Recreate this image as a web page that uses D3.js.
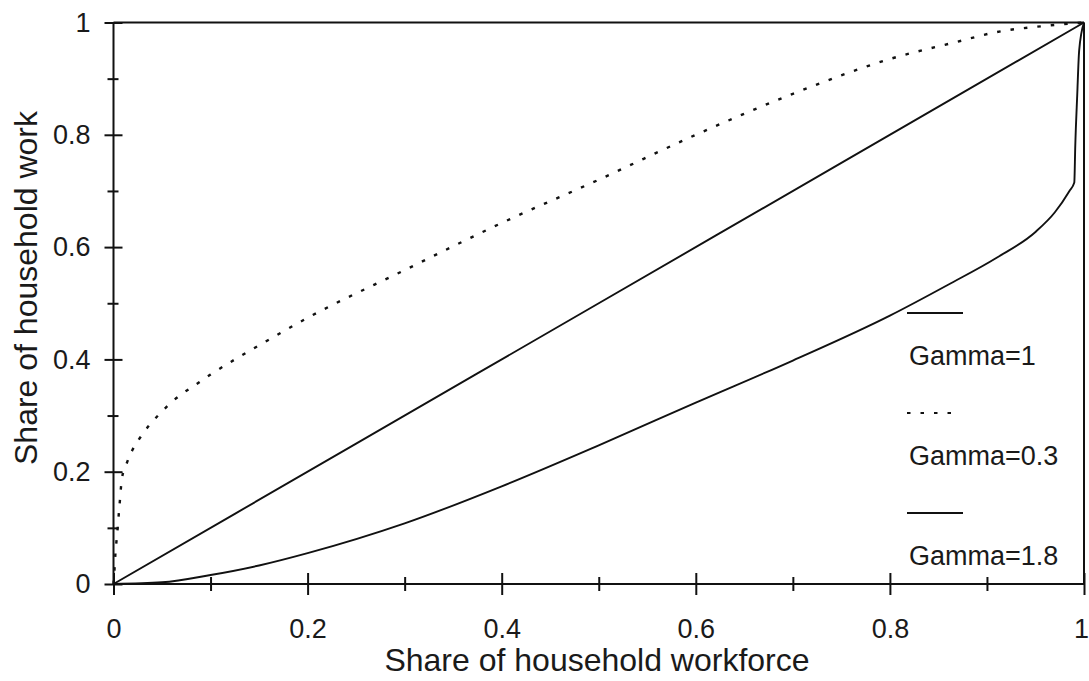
<!DOCTYPE html>
<html>
<head>
<meta charset="utf-8">
<script src="https://cdn.jsdelivr.net/npm/d3@7"></script>
<style>
  html, body { margin: 0; padding: 0; background: #fff; }
  svg { display: block; }
  text { font-family: "Liberation Sans", Arial, Helvetica, sans-serif; fill: #1a1a1a; }
</style>
</head>
<body>
<svg id="chart" width="1089" height="681"></svg>
<script>
// Tick values and labels
const xMajorTicks = [0, 0.2, 0.4, 0.6, 0.8, 1];
const xMajorLabels = ["0", "0.2", "0.4", "0.6", "0.8", "1"];
const xMinorTicks = [0.1, 0.3, 0.5, 0.7, 0.9];
const yMajorTicks = [0, 0.2, 0.4, 0.6, 0.8, 1];
const yMajorLabels = ["0", "0.2", "0.4", "0.6", "0.8", "1"];
const yMinorTicks = [0.1, 0.3, 0.5, 0.7, 0.9];

// Gamma = 1 : equal shares
const gamma1X = [0, 0.25, 0.5, 0.75, 1];
const gamma1Y = [0, 0.25, 0.5, 0.75, 1];

// Gamma = 0.3
const gamma03X = [0, 0.001, 0.002, 0.0035, 0.006, 0.0087, 0.013, 0.0196, 0.0275, 0.037, 0.047, 0.058, 0.070, 0.083, 0.1, 0.15, 0.2, 0.3, 0.4, 0.5, 0.6, 0.7, 0.8, 0.87, 0.91, 0.96, 1];
const gamma03Y = [0, 0.025, 0.055, 0.084, 0.136, 0.188, 0.212, 0.239, 0.261, 0.283, 0.302, 0.321, 0.338, 0.353, 0.373, 0.425, 0.474, 0.559, 0.643, 0.720, 0.800, 0.873, 0.935, 0.966, 0.983, 0.994, 1];

// Gamma = 1.8
const gamma18X = [0, 0.05, 0.1, 0.15, 0.2, 0.3, 0.4, 0.5, 0.6, 0.7, 0.8, 0.86, 0.91, 0.95, 0.97, 0.985, 0.990, 0.991, 0.993, 0.995, 1];
const gamma18Y = [0, 0.003, 0.016, 0.033, 0.055, 0.108, 0.174, 0.247, 0.323, 0.398, 0.478, 0.533, 0.581, 0.627, 0.662, 0.700, 0.715, 0.78, 0.87, 0.95, 1];

const legendLabels = ["Gamma=1", "Gamma=0.3", "Gamma=1.8"];

const svg = d3.select("#chart");
const plotLeft = 113.5, plotRight = 1084, plotTop = 22.5, plotBottom = 584;

const x = d3.scaleLinear().domain([0, 1]).range([plotLeft, plotRight]);
const y = d3.scaleLinear().domain([0, 1]).range([plotBottom, plotTop]);

const ink = "#111";

// Frame: top and right edges
svg.append("line").attr("x1", plotLeft).attr("x2", plotRight).attr("y1", plotTop).attr("y2", plotTop)
  .attr("stroke", ink).attr("stroke-width", 2);
svg.append("line").attr("x1", plotRight).attr("x2", plotRight).attr("y1", plotTop).attr("y2", plotBottom)
  .attr("stroke", ink).attr("stroke-width", 2);

// Bottom axis
const xAxis = svg.append("g").attr("transform", `translate(0,${plotBottom})`)
  .call(d3.axisBottom(x).tickValues(xMajorTicks).tickSize(11).tickPadding(24)
    .tickFormat((d, i) => xMajorLabels[i]));
xAxis.select(".domain").attr("stroke", ink).attr("stroke-width", 2).attr("d", `M${plotLeft},0H${plotRight}`);
xAxis.selectAll(".tick line").attr("y1", -11).attr("stroke", ink).attr("stroke-width", 2);
xAxis.selectAll(".tick text").attr("font-size", 27).attr("font-family", null).attr("fill", "#1a1a1a")
  .attr("dx", d => d === 1 ? -3 : 0);

const xMinor = svg.append("g").attr("transform", `translate(0,${plotBottom})`)
  .call(d3.axisBottom(x).tickValues(xMinorTicks).tickSize(7).tickFormat(""));
xMinor.select(".domain").remove();
xMinor.selectAll(".tick line").attr("y1", -7).attr("stroke", ink).attr("stroke-width", 2);

// Left axis
const yAxis = svg.append("g").attr("transform", `translate(${plotLeft},0)`)
  .call(d3.axisLeft(y).tickValues(yMajorTicks).tickSize(9).tickPadding(14)
    .tickFormat((d, i) => yMajorLabels[i]));
yAxis.select(".domain").attr("stroke", ink).attr("stroke-width", 2).attr("d", `M0,${plotTop}V${plotBottom}`);
yAxis.selectAll(".tick line").attr("x1", 9).attr("stroke", ink).attr("stroke-width", 2);
yAxis.selectAll(".tick text").attr("font-size", 27).attr("font-family", null).attr("fill", "#1a1a1a");

const yMinor = svg.append("g").attr("transform", `translate(${plotLeft},0)`)
  .call(d3.axisLeft(y).tickValues(yMinorTicks).tickSize(6).tickFormat(""));
yMinor.select(".domain").remove();
yMinor.selectAll(".tick line").attr("x1", 5).attr("stroke", ink).attr("stroke-width", 2);

// Axis titles
svg.append("text").attr("x", 597).attr("y", 671).attr("text-anchor", "middle")
  .attr("font-size", 32).text("Share of household workforce");
svg.append("text").attr("transform", "translate(37,288) rotate(-90)").attr("text-anchor", "middle")
  .attr("font-size", 32).text("Share of household work");

// Curves
const line = d3.line().x(d => x(d[0])).y(d => y(d[1])).curve(d3.curveMonotoneX);
const series = [
  { xs: gamma1X, ys: gamma1Y, dash: null, width: 1.9 },
  { xs: gamma03X, ys: gamma03Y, dash: "3.5,10", width: 2.4 },
  { xs: gamma18X, ys: gamma18Y, dash: null, width: 1.9 }
];
series.forEach(s => {
  svg.append("path")
    .datum(d3.zip(s.xs, s.ys))
    .attr("d", line)
    .attr("fill", "none")
    .attr("stroke", ink)
    .attr("stroke-width", s.width)
    .attr("stroke-dasharray", s.dash);
});

// Legend
const legend = svg.append("g").attr("transform", "translate(907,313)");
series.forEach((s, i) => {
  const g = legend.append("g").attr("transform", `translate(0,${i * 100})`);
  g.append("line").attr("x1", 0).attr("x2", s.dash ? 52 : 56).attr("y1", 0).attr("y2", 0)
    .attr("stroke", ink).attr("stroke-width", s.dash ? 1.8 : 1.9).attr("stroke-dasharray", s.dash);
  g.append("text").attr("x", 2).attr("y", 52).attr("font-size", 27).text(legendLabels[i]);
});
</script>
</body>
</html>
